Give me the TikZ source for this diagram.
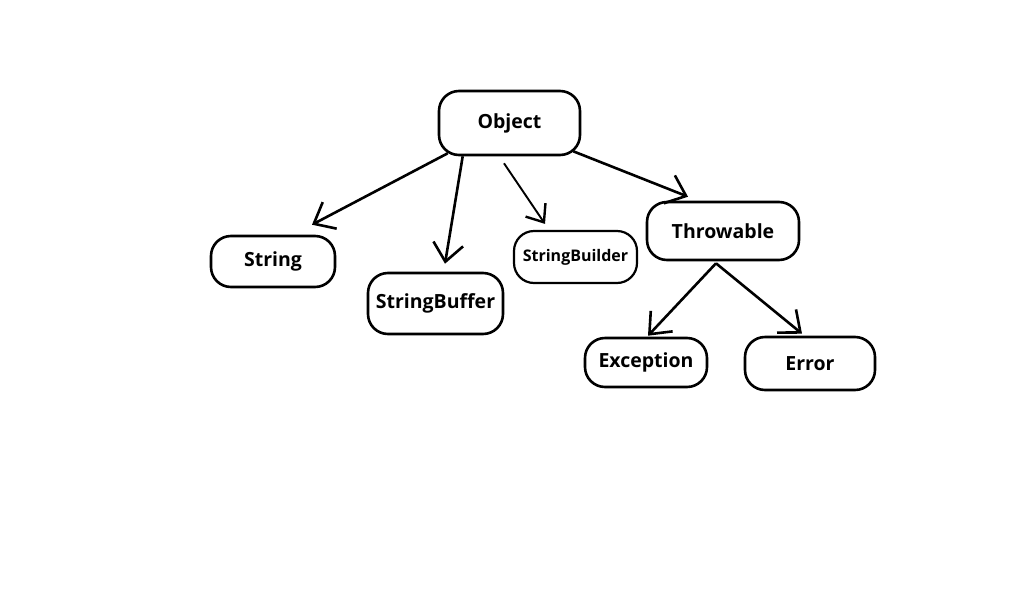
\documentclass[tikz,border=0pt]{standalone}
\usepackage{fontspec}
\setmainfont{Open Sans}
\usetikzlibrary{arrows.meta}
\tikzset{
  box/.style={draw=black, line width=2.6pt, rounded corners=20pt, fill=white,
    inner sep=0pt, font=\bfseries\fontsize{19.5}{21}\selectfont},
  arr/.style={line width=2.6pt, -{Straight Barb[length=18pt,width=30pt,line width=2.6pt]}},
  thinarr/.style={line width=1.9pt, -{Straight Barb[length=15pt,width=24pt,line width=2.4pt]}}
}
\begin{document}
\begin{tikzpicture}[x=1pt,y=-1pt]
\useasboundingbox[fill=white] (0,0) rectangle (1023,600);
\node[box, minimum width=141pt, minimum height=64pt] (obj) at (509.5,123) {Object};
\node[box, minimum width=124pt, minimum height=51pt] (str) at (273,261.5) {String};
\node[box, minimum width=135pt, minimum height=61pt] (sbuf) at (435.5,303.5) {StringBuffer};
\node[box, line width=2.2pt, minimum width=123pt, minimum height=52pt, font=\bfseries\fontsize{16}{18}\selectfont] (sbld) at (575.5,257) {StringBuilder};
\node[box, minimum width=152pt, minimum height=58pt] (thr) at (723,231) {Throwable};
\node[box, minimum width=122pt, minimum height=49pt] (exc) at (646,362.5) {Exception};
\node[box, minimum width=130pt, minimum height=53pt] (err) at (810,363.5) {Error};

\draw[arr] ([shift={(10,-3)}]obj.south west) -- ([shift={(39,-10)}]str.north);
\draw[arr] ([shift={(25,0)}]obj.south west) -- ([shift={(9.5,-8)}]sbuf.north);
\draw[thinarr] ([shift={(-5.5,7)}]obj.south) -- ([shift={(-30.5,-6)}]sbld.north);
\draw[arr] ([shift={(-8,-5)}]obj.south east) -- ([shift={(-35,-4)}]thr.north);
\draw[arr] ([shift={(-7,2)}]thr.south) -- ([shift={(2,-1)}]exc.north);
\draw[arr] ([shift={(-7,2)}]thr.south) -- ([shift={(-8,-2)}]err.north);
\end{tikzpicture}
\end{document}
